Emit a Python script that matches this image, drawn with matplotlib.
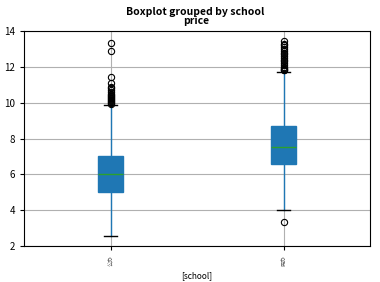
import matplotlib
matplotlib.use("Agg")
import matplotlib.pyplot as plt

plt.rcParams['font.family'] = ['Noto Sans CJK SC', 'DejaVu Sans']

groups = ["公办", "民办"]
q1 = [5.03, 6.60]
med = [6.00, 7.51]
q3 = [7.02, 8.70]
whislo = [2.56, 4.00]
whishi = [9.85, 11.73]
fliers = [
    [9.92, 9.98, 10.05, 10.1, 10.15, 10.2, 10.25, 10.3, 10.38, 10.45, 10.5,
     10.6, 10.7, 10.8, 10.9, 11.08, 11.42, 12.88, 13.31],
    [3.33, 11.8, 11.85, 11.9, 11.95, 12.0, 12.1, 12.2, 12.3, 12.4, 12.5,
     12.6, 12.7, 12.8, 12.9, 13.0, 13.1, 13.2, 13.3, 13.44],
]
yticks = [2, 4, 6, 8, 10, 12, 14]

stats = []
for i in range(len(groups)):
    stats.append(dict(label=groups[i], q1=q1[i], med=med[i], q3=q3[i],
                      whislo=whislo[i], whishi=whishi[i], fliers=fliers[i]))

fig = plt.figure(figsize=(3.8, 2.82), dpi=100)
ax = fig.add_axes([24/380, 1-246/282, 346/380, 215/282])
ax.bxp(stats, patch_artist=True, widths=0.15,
       boxprops=dict(facecolor='#1f77b4', edgecolor='#1f77b4'),
       whiskerprops=dict(color='#1f77b4', linewidth=1),
       capprops=dict(color='black', linewidth=1),
       medianprops=dict(color='#2ca02c', linewidth=1),
       flierprops=dict(marker='o', markerfacecolor='none', markeredgecolor='black',
                       markersize=4.5, markeredgewidth=0.8))
ax.set_xlim(0.5, 2.5)
ax.set_ylim(2, 14)
ax.set_yticks(yticks)
ax.grid(True, color='#b0b0b0', linewidth=0.8)
ax.set_axisbelow(True)
ax.tick_params(axis='y', labelsize=7, length=3)
ax.tick_params(axis='x', labelsize=4, length=3)
for lbl in ax.get_xticklabels():
    lbl.set_rotation(90)
    lbl.set_color('#555555')
ax.set_xlabel("[school]", fontsize=6, labelpad=4)
ax.text(196/380, 1 - 21/282, "price", transform=fig.transFigure, ha='center',
        va='center', fontsize=7.5, fontweight='bold')
fig.suptitle("Boxplot grouped by school", fontsize=7.5, fontweight='bold',
             x=195/380, y=1-12/282, va='center')
fig.savefig("out.png", dpi=100)
